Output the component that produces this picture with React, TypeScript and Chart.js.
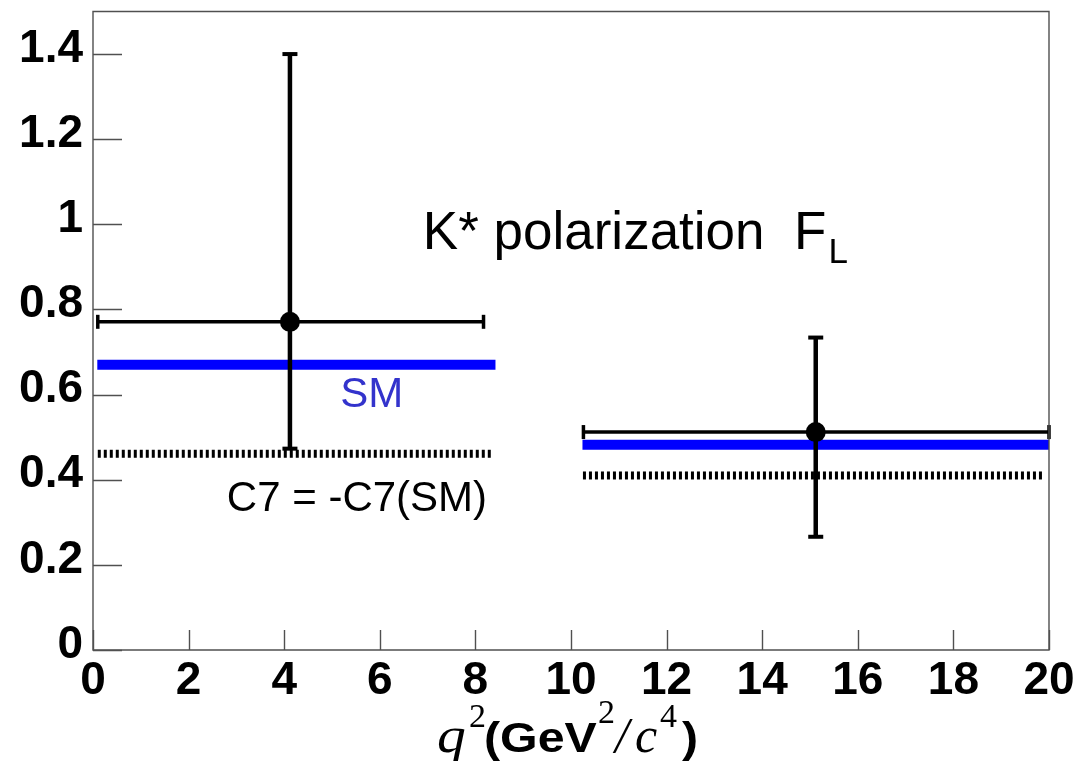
import React, { useEffect, useRef } from 'react';
import { Chart, registerables } from 'chart.js';

Chart.register(...registerables);

// ---- data ----
const binCentres = [4.12, 15.12];
const binLow = [0.1, 10.26];
const binHigh = [8.17, 20.0];
const measuredFL = [0.771, 0.512];
const errLow = [0.473, 0.266];
const errHigh = [1.4, 0.734];

const smFrom = [0.09, 10.24];
const smTo = [8.42, 20.0];
const smFL = [0.67, 0.482];

const flipFrom = [0.1, 10.25];
const flipTo = [8.34, 19.87];
const flipFL = [0.461, 0.41];

const xTickValues = [0, 2, 4, 6, 8, 10, 12, 14, 16, 18, 20];
const yTickValues = [0, 0.2, 0.4, 0.6, 0.8, 1.0, 1.2, 1.4];

const titleText = 'K* polarization  F';
const titleSub = 'L';
const smLabel = 'SM';
const flipLabel = 'C7 = -C7(SM)';

const W = 1082;
const H = 761;

const SANS = '"Liberation Sans", Arial, sans-serif';
const SERIF = '"Liberation Serif", "Times New Roman", serif';

const framePlugin = {
  id: 'frameTicks',
  afterDraw(chart: any) {
    const { ctx, chartArea, scales } = chart;
    const xs = scales.x;
    const ys = scales.y;
    ctx.save();
    ctx.strokeStyle = '#505050';
    ctx.lineWidth = 1.4;
    ctx.beginPath();
    ctx.rect(chartArea.left, chartArea.top, chartArea.right - chartArea.left, chartArea.bottom - chartArea.top);
    ctx.stroke();
    ctx.beginPath();
    for (const v of yTickValues) {
      const py = Math.round(ys.getPixelForValue(v)) + 0.5;
      ctx.moveTo(chartArea.left, py);
      ctx.lineTo(chartArea.left + 29, py);
    }
    for (const v of xTickValues) {
      const px = Math.round(xs.getPixelForValue(v)) + 0.5;
      ctx.moveTo(px, chartArea.bottom);
      ctx.lineTo(px, chartArea.bottom - 20);
    }
    ctx.stroke();
    ctx.restore();
  },
};

function stretchText(ctx: any, text: string, x: number, y: number, sx: number) {
  ctx.save();
  ctx.translate(x, y);
  ctx.scale(sx, 1);
  ctx.fillText(text, 0, 0);
  ctx.restore();
}

const textPlugin = {
  id: 'texts',
  afterDraw(chart: any) {
    const { ctx, scales } = chart;
    const xs = scales.x;
    const ys = scales.y;
    ctx.save();
    ctx.textBaseline = 'alphabetic';
    ctx.textAlign = 'left';

    // title
    ctx.fillStyle = '#000';
    ctx.font = `53px ${SANS}`;
    const tx = xs.getPixelForValue(6.9);
    const ty = ys.getPixelForValue(0.942);
    ctx.fillText(titleText, tx, ty);
    const tw = ctx.measureText(titleText).width;
    ctx.font = `35px ${SANS}`;
    ctx.fillText(titleSub, tx + tw + 2, ty + 14);

    // SM label
    ctx.fillStyle = '#3333cc';
    ctx.font = `42px ${SANS}`;
    ctx.fillText(smLabel, xs.getPixelForValue(5.17), ys.getPixelForValue(0.57));

    // flipped C7 label
    ctx.fillStyle = '#000';
    ctx.fillText(flipLabel, xs.getPixelForValue(2.8), ys.getPixelForValue(0.326));

    // x-axis title: q^2 (GeV^2/c^4)
    const base = 752;
    ctx.font = `italic 50px ${SERIF}`;
    stretchText(ctx, 'q', 437, base, 1.15);
    ctx.font = `34px ${SERIF}`;
    ctx.fillText('2', 469, 727);
    ctx.font = `bold 42px ${SANS}`;
    stretchText(ctx, '(GeV', 484, base, 1.15);
    ctx.font = `34px ${SERIF}`;
    ctx.fillText('2', 598, 723);
    ctx.font = `italic 50px ${SERIF}`;
    ctx.fillText('/', 615, base);
    ctx.fillText('c', 635, base);
    ctx.font = `34px ${SERIF}`;
    ctx.fillText('4', 660, 727);
    ctx.font = `bold 42px ${SANS}`;
    stretchText(ctx, ')', 682, base, 1.15);
    ctx.restore();
  },
};

export default function App() {
  const canvasRef = useRef<HTMLCanvasElement | null>(null);

  useEffect(() => {
    if (!canvasRef.current) return;

    const points = {
      data: binCentres.map((x, i) => ({ x, y: measuredFL[i] })),
      showLine: false,
      pointRadius: 10,
      pointBackgroundColor: '#000',
      pointBorderWidth: 0,
      clip: false,
    };

    const vBars = binCentres.map((x, i) => ({
      data: [
        { x, y: errLow[i] },
        { x, y: errHigh[i] },
      ],
      showLine: true,
      borderColor: '#000',
      borderWidth: 4.5,
      pointStyle: 'line',
      pointRadius: 7.5,
      pointBorderWidth: 4,
      pointBorderColor: '#000',
      clip: false,
    }));

    const hBars = binCentres.map((_, i) => ({
      data: [
        { x: binLow[i], y: measuredFL[i] },
        { x: binHigh[i], y: measuredFL[i] },
      ],
      showLine: true,
      borderColor: '#000',
      borderWidth: 3.5,
      pointStyle: 'line',
      pointRotation: 90,
      pointRadius: 7,
      pointBorderWidth: 3.5,
      pointBorderColor: '#000',
      clip: false,
    }));

    const smLines = smFL.map((y, i) => ({
      data: [
        { x: smFrom[i], y },
        { x: smTo[i], y },
      ],
      showLine: true,
      borderColor: '#0000ff',
      borderWidth: 10,
      pointRadius: 0,
      clip: false,
    }));

    const flipLines = flipFL.map((y, i) => ({
      data: [
        { x: flipFrom[i], y },
        { x: flipTo[i], y },
      ],
      showLine: true,
      borderColor: '#000',
      borderWidth: 8,
      borderDash: [3, 3],
      pointRadius: 0,
      clip: false,
    }));

    const chart = new Chart(canvasRef.current, {
      type: 'scatter',
      data: {
        datasets: [points, ...vBars, ...hBars, ...smLines, ...flipLines] as any,
      },
      options: {
        animation: false,
        responsive: false,
        devicePixelRatio: 1,
        layout: { padding: { top: 10, right: 33, left: 0, bottom: 0 } },
        plugins: {
          legend: { display: false },
          tooltip: { enabled: false },
        },
        elements: { line: { tension: 0 } },
        scales: {
          x: {
            type: 'linear',
            min: 0,
            max: 20,
            grid: { display: false, drawTicks: false },
            border: { display: false },
            afterBuildTicks: (scale: any) => {
              scale.ticks = xTickValues.map((v) => ({ value: v }));
            },
            afterFit: (scale: any) => {
              scale.height = 111;
              scale.paddingLeft = 0;
              scale.paddingRight = 0;
            },
            ticks: {
              autoSkip: false,
              maxRotation: 0,
              padding: 4,
              color: '#000',
              font: { family: SANS, weight: 'bold', size: 46 },
              callback: (v: any) => String(Math.round(Number(v))),
            },
          },
          y: {
            type: 'linear',
            min: 0,
            max: 1.5,
            grid: { display: false, drawTicks: false },
            border: { display: false },
            afterBuildTicks: (scale: any) => {
              scale.ticks = yTickValues.map((v) => ({ value: v }));
            },
            afterFit: (scale: any) => {
              scale.width = 93;
              scale.paddingTop = 0;
              scale.paddingBottom = 0;
            },
            ticks: {
              autoSkip: false,
              padding: 10,
              labelOffset: -5,
              color: '#000',
              font: { family: SANS, weight: 'bold', size: 46 },
              callback: (v: any) => String(Math.round(Number(v) * 10) / 10),
            },
          },
        },
      } as any,
      plugins: [framePlugin, textPlugin],
    });

    return () => chart.destroy();
  }, []);

  return (
    <div style={{ position: 'fixed', left: 0, top: 0, width: W, height: H, background: '#fff' }}>
      <canvas ref={canvasRef} width={W} height={H} style={{ width: W, height: H, display: 'block' }} />
    </div>
  );
}
